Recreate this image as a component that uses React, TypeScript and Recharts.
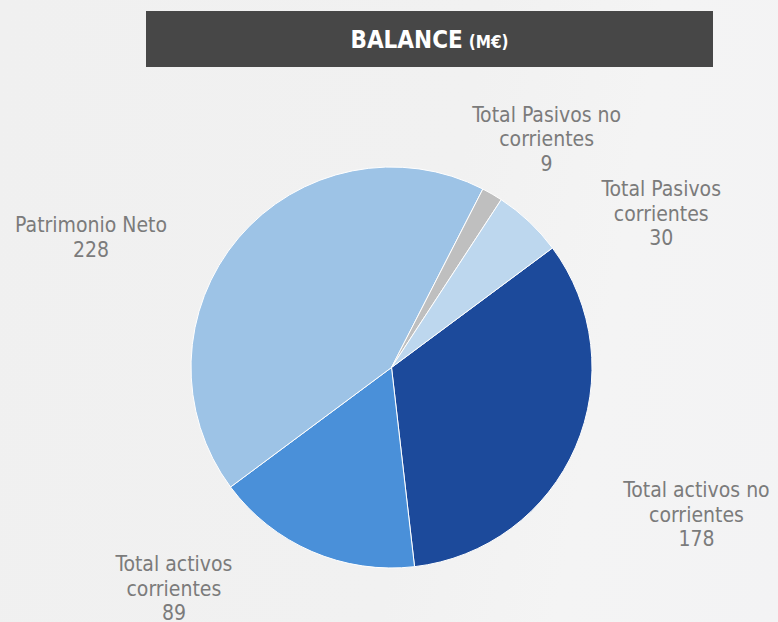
import React from "react";
import { PieChart, Pie, Cell } from "recharts";

const categories = [
  "Total activos no corrientes",
  "Total activos corrientes",
  "Patrimonio Neto",
  "Total Pasivos no corrientes",
  "Total Pasivos corrientes",
];
const values = [178, 89, 228, 9, 30];
const labelLines = [
  ["Total activos no", "corrientes"],
  ["Total activos", "corrientes"],
  ["Patrimonio Neto"],
  ["Total Pasivos no", "corrientes"],
  ["Total Pasivos", "corrientes"],
];
const colors = ["#1c4a9b", "#4a90d9", "#9dc3e6", "#bfbfbf", "#bdd7ee"];
// label placement: angular offset from slice mid-angle (deg) and distance from centre (px)
const labelAngleOffset = [-2.5, -21, 17, -4.2, -17.2];
const labelRadius = [339, 311, 327, 275, 310];

const data = categories.map((name, i) => ({ name, value: values[i] }));

const W = 778;
const H = 622;
const FONT = "'DejaVu Sans Condensed', 'DejaVu Sans', sans-serif";
const RAD = Math.PI / 180;

const renderLabel = (props: any) => {
  const { cx, cy, midAngle, index, value } = props;
  const a = (midAngle + labelAngleOffset[index]) * RAD;
  const r = labelRadius[index];
  const x = cx + r * Math.cos(a);
  const y = cy - r * Math.sin(a);
  const lines = [...labelLines[index], String(value)];
  const lh = 24.5;
  const n = lines.length;
  return (
    <text
      key={`lbl-${index}`}
      x={x}
      y={y}
      textAnchor="middle"
      fill="#7b7b7b"
      fontFamily={FONT}
      fontSize={21}
    >
      {lines.map((t, i) => (
        <tspan key={i} x={x} y={y + 6 + (i - (n - 1) / 2) * lh}>
          {t}
        </tspan>
      ))}
    </text>
  );
};

export default function App() {
  return (
    <div
      style={{
        position: "absolute",
        left: 0,
        top: 0,
        width: W,
        height: H,
        overflow: "hidden",
        background:
          "linear-gradient(100deg, #f0f0f0 0%, #f1f1f1 55%, #f4f4f4 75%, #f3f3f4 100%)",
      }}
    >
      <div
        style={{
          position: "absolute",
          left: 146,
          top: 11,
          width: 567,
          height: 56,
          background: "#474747",
          color: "#ffffff",
          fontFamily: FONT,
          fontWeight: "bold",
          display: "flex",
          alignItems: "center",
          justifyContent: "center",
          whiteSpace: "nowrap",
        }}
      >
        <span style={{ fontSize: 24, marginTop: 2 }}>BALANCE</span>
        <span style={{ fontSize: 17, marginLeft: 6, marginTop: 6 }}>(M€)</span>
      </div>
      <div style={{ position: "absolute", left: 0, top: 0 }}>
        <PieChart width={W} height={H} margin={{ top: 0, right: 0, bottom: 0, left: 0 }}>
          <Pie
            data={data}
            dataKey="value"
            nameKey="name"
            cx={391.5}
            cy={367.5}
            outerRadius={200.5}
            startAngle={36.6}
            endAngle={-323.4}
            stroke="#ffffff"
            strokeWidth={1}
            labelLine={false}
            label={renderLabel}
            isAnimationActive={false}
          >
            {data.map((d, i) => (
              <Cell key={d.name} fill={colors[i]} />
            ))}
          </Pie>
        </PieChart>
      </div>
    </div>
  );
}
